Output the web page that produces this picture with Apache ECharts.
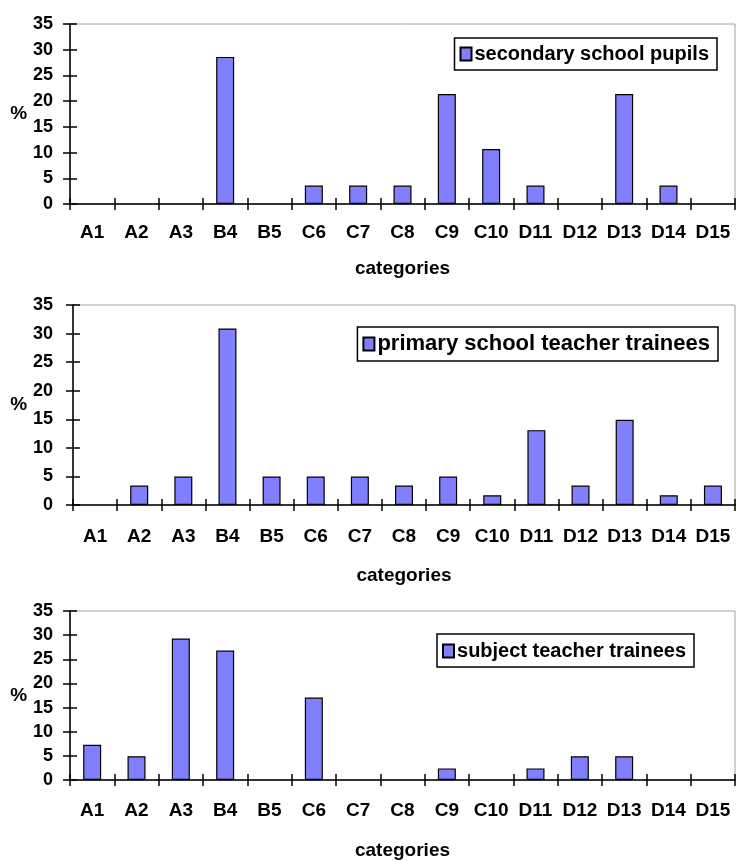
<!DOCTYPE html>
<html>
<head>
<meta charset="utf-8">
<script src="https://cdn.jsdelivr.net/npm/echarts@6/dist/echarts.min.js"></script>
<style>
  html, body { margin: 0; padding: 0; background: #fff; }
  #chart { width: 736px; height: 861px; }
</style>
</head>
<body>
<div id="chart"></div>
<script>
const categories = ['A1', 'A2', 'A3', 'B4', 'B5', 'C6', 'C7', 'C8', 'C9', 'C10', 'D11', 'D12', 'D13', 'D14', 'D15'];

const secondaryPupils = [0, 0, 0, 28.6, 0, 3.6, 3.6, 3.6, 21.4, 10.7, 3.6, 0, 21.4, 3.6, 0];
const primaryTrainees = [0, 3.4, 5.0, 30.9, 5.0, 5.0, 5.0, 3.4, 5.0, 1.7, 13.1, 3.4, 14.9, 1.7, 3.4];
const subjectTrainees = [7.3, 4.9, 29.3, 26.8, 0, 17.1, 0, 0, 2.4, 0, 2.4, 4.9, 4.9, 0, 0];

const seriesNames = ['secondary school pupils', 'primary school teacher trainees', 'subject teacher trainees'];
const seriesData = [secondaryPupils, primaryTrainees, subjectTrainees];

const font = 'Liberation Sans, Arial, sans-serif';

// layout of the three panels
const panels = [
  { left: 70, top: 24, height: 180, nameGap: 55, labelMargin: 19,
    legend: { right: 19, top: 38, fontSize: 20, pad: [6, 8, 6, 5] } },
  { left: 73, top: 305, height: 200, nameGap: 61, labelMargin: 22,
    legend: { right: 18, top: 327, fontSize: 22, pad: [6, 8, 6, 5] } },
  { left: 70, top: 611, height: 177, nameGap: 61, labelMargin: 21,
    legend: { right: 42, top: 634, fontSize: 20, pad: [7, 8, 6, 5] } }
];

const grid = [], xAxis = [], yAxis = [], series = [], legend = [];

panels.forEach((p, i) => {
  grid.push({
    left: p.left, right: 1, top: p.top, height: p.height,
    show: true, borderColor: '#a0a0a0', borderWidth: 1
  });
  // main x axis: labels + outer ticks
  xAxis.push({
    type: 'category', gridIndex: i, data: categories,
    name: 'categories', nameLocation: 'middle', nameGap: p.nameGap,
    nameTextStyle: { fontFamily: font, fontWeight: 'bold', fontSize: 19, color: '#000' },
    axisLine: { lineStyle: { color: '#000', width: 1.5 } },
    axisTick: { show: true, length: 6, lineStyle: { color: '#000', width: 1.5 } },
    axisLabel: { margin: p.labelMargin, fontFamily: font, fontWeight: 'bold', fontSize: 19, color: '#000', interval: 0 }
  });
  // second x axis, only for the inner half of the crossing ticks
  xAxis.push({
    type: 'category', gridIndex: i, data: categories, position: 'bottom',
    axisLine: { show: false },
    axisTick: { show: true, inside: true, length: 6, lineStyle: { color: '#000', width: 1.5 } },
    axisLabel: { show: false }
  });
  yAxis.push({
    type: 'value', gridIndex: i, min: 0, max: 35, interval: 5, position: 'left',
    name: '%', nameLocation: 'middle', nameGap: p.left - 28, nameRotate: 0,
    nameTextStyle: { fontFamily: font, fontWeight: 'bold', fontSize: 19, color: '#000' },
    axisLine: { show: true, lineStyle: { color: '#000', width: 1.5 } },
    axisTick: { show: true, length: 7, lineStyle: { color: '#000', width: 1.5 } },
    axisLabel: { margin: p.left - 53, fontFamily: font, fontWeight: 'bold', fontSize: 18, color: '#000' },
    splitLine: { show: false }
  });
  yAxis.push({
    type: 'value', gridIndex: i, min: 0, max: 35, interval: 5, position: 'left',
    axisLine: { show: false },
    axisTick: { show: true, inside: true, length: 7, lineStyle: { color: '#000', width: 1.5 } },
    axisLabel: { show: false },
    splitLine: { show: false }
  });
  series.push({
    name: seriesNames[i], type: 'bar',
    xAxisIndex: i * 2, yAxisIndex: i * 2,
    // zero values are left empty, as in the original
    data: seriesData[i].map(v => (v === 0 ? '-' : v)),
    barWidth: 18,
    itemStyle: { color: '#8080ff', borderColor: '#000', borderWidth: 1.2 },
    emphasis: { disabled: true }
  });
  legend.push({
    data: [seriesNames[i]],
    right: p.legend.right, top: p.legend.top,
    orient: 'horizontal',
    borderColor: '#000', borderWidth: 1.5, padding: p.legend.pad,
    itemWidth: 11, itemHeight: 13, itemGap: 4,
    icon: 'rect',
    textStyle: { fontFamily: font, fontWeight: 'bold', fontSize: p.legend.fontSize, color: '#000', padding: [0, 0, 0, -2] },
    selectedMode: false
  });
});

const chart = echarts.init(document.getElementById('chart'));
chart.setOption({
  animation: false,
  backgroundColor: '#fff',
  grid, xAxis, yAxis, series, legend
});
</script>
</body>
</html>
